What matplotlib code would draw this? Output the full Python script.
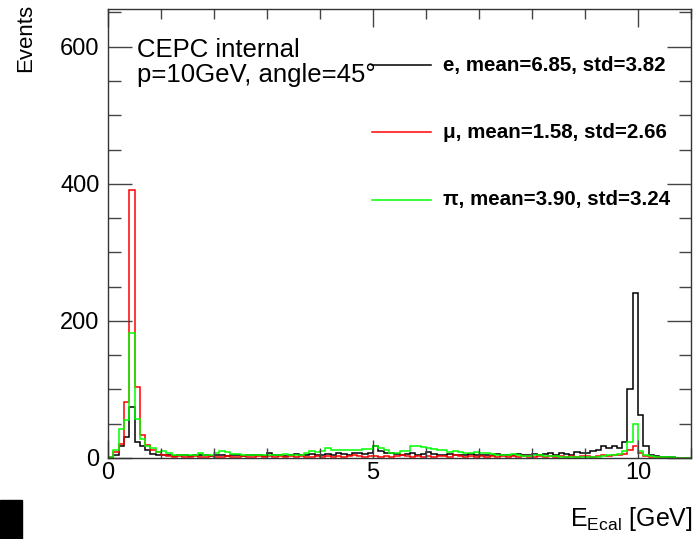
import numpy as np
import matplotlib
matplotlib.use("Agg")
import matplotlib.pyplot as plt
from matplotlib.ticker import MultipleLocator
from matplotlib.patches import Rectangle

plt.rcParams['font.family'] = ['Liberation Sans', 'DejaVu Sans']
plt.rcParams['mathtext.fontset'] = 'custom'
plt.rcParams['mathtext.rm'] = 'Liberation Sans'
plt.rcParams['mathtext.it'] = 'Liberation Sans:italic'

# Bin edges: 0 to 11 GeV in 0.1 GeV steps
bin_lo, bin_hi, bin_w = 0.0, 11.0, 0.1

e_counts = [0, 4, 18, 31, 74, 23, 18, 11, 6, 4,
            5, 4, 3, 4, 5, 3, 4, 5, 4, 3,
            4, 4, 3, 5, 4, 3, 4, 5, 4, 3,
            8, 5, 4, 3, 5, 6, 4, 5, 6, 5,
            4, 6, 5, 7, 6, 5, 8, 7, 6, 8,
            17, 10, 8, 7, 6, 5, 6, 7, 5, 6,
            9, 6, 5, 4, 6, 5, 4, 5, 6, 4,
            5, 4, 5, 6, 4, 5, 4, 6, 5, 4,
            6, 5, 6, 7, 5, 8, 6, 5, 9, 7,
            7, 10, 12, 18, 15, 17, 15, 24, 101, 240,
            63, 17, 5, 3, 2, 1, 1, 0, 0, 0]

mu_counts = [2, 9, 20, 81, 391, 103, 33, 19, 12, 9,
             4, 3, 2, 3, 2, 2, 3, 2, 2, 3,
             2, 2, 3, 2, 2, 3, 2, 2, 3, 2,
             3, 2, 3, 2, 3, 2, 3, 2, 2, 3,
             2, 3, 2, 3, 2, 3, 4, 3, 2, 3,
             3, 2, 3, 2, 3, 4, 3, 2, 3, 2,
             3, 2, 3, 3, 2, 4, 3, 2, 3, 2,
             3, 2, 3, 2, 3, 2, 3, 2, 3, 2,
             2, 3, 2, 3, 2, 3, 2, 3, 2, 3,
             3, 2, 3, 4, 3, 4, 5, 6, 12, 17,
             8, 3, 1, 1, 0, 0, 0, 0, 0, 0]

pi_counts = [1, 12, 43, 55, 182, 57, 28, 17, 14, 9,
             10, 7, 5, 5, 5, 4, 4, 7, 5, 4,
             7, 10, 9, 6, 6, 4, 4, 5, 5, 5,
             5, 5, 5, 6, 5, 5, 5, 7, 10, 9,
             10, 15, 11, 11, 11, 11, 12, 12, 13, 13,
             17, 15, 11, 8, 8, 10, 10, 17, 18, 16,
             15, 13, 12, 11, 9, 10, 9, 8, 8, 9,
             8, 7, 6, 4, 4, 5, 6, 4, 3, 3,
             5, 4, 3, 3, 3, 2, 2, 2, 2, 2,
             2, 2, 2, 3, 5, 5, 6, 10, 24, 49,
             10, 5, 3, 2, 2, 2, 1, 0, 0, 0]

labels = ["e, mean=6.85, std=3.82",
          "\u03bc, mean=1.58, std=2.66",
          "\u03c0, mean=3.90, std=3.24"]
colors = ["#000000", "#ff0000", "#00ff00"]

edges = np.arange(len(e_counts) + 1) * bin_w + bin_lo

W, H = 695, 539
fig = plt.figure(figsize=(W / 100, H / 100), dpi=100)
ax = fig.add_axes([108 / W, 1 - 458 / H, (691 - 108) / W, (458 - 9) / H])

for counts, c in zip([e_counts, mu_counts, pi_counts], colors):
    ax.stairs(counts, edges, color=c, linewidth=1.1, baseline=0)

ax.set_xlim(bin_lo, bin_hi)
ax.set_ylim(0, 655)

ax.xaxis.set_major_locator(MultipleLocator(5))
ax.xaxis.set_minor_locator(MultipleLocator(1))
ax.yaxis.set_major_locator(MultipleLocator(200))
ax.yaxis.set_minor_locator(MultipleLocator(50))
ax.tick_params(which='both', direction='in', top=True, right=True,
               labelsize=17, width=1.0, color='#444444')
ax.tick_params(axis='y', which='major', length=17, pad=6)
ax.tick_params(axis='y', which='minor', length=9)
ax.tick_params(axis='x', which='major', length=13, pad=3)
ax.tick_params(axis='x', which='minor', length=7)
for s in ax.spines.values():
    s.set_linewidth(1.0)
    s.set_color('#333333')

fig.text(26 / W, 1 - 4 / H, "Events", fontsize=16, rotation=90,
         ha='center', va='top')
fig.text(693 / W, 1 - 526 / H, r"E$_{\mathrm{Ecal}}$ [GeV]", fontsize=18,
         ha='right', va='baseline')

fig.text(137 / W, 1 - 57 / H, "CEPC internal", fontsize=18.5,
         ha='left', va='baseline')
fig.text(137 / W, 1 - 82 / H, "p=10GeV, angle=45\u00b0", fontsize=18.5,
         ha='left', va='baseline')

# legend
leg_y = [65, 132, 200]
for lab, c, yp in zip(labels, colors, leg_y):
    yy = 1 - yp / H
    fig.add_artist(plt.Line2D([372 / W, 431 / W], [yy, yy], color=c, linewidth=1.1,
                              transform=fig.transFigure))
    fig.text(443 / W, yy, lab, fontsize=14.8, fontweight='bold', va='center', ha='left')

fig.add_artist(Rectangle((0, 0), 22 / W, 39 / H, transform=fig.transFigure,
                         color='black'))

fig.savefig("out.png", dpi=100)
